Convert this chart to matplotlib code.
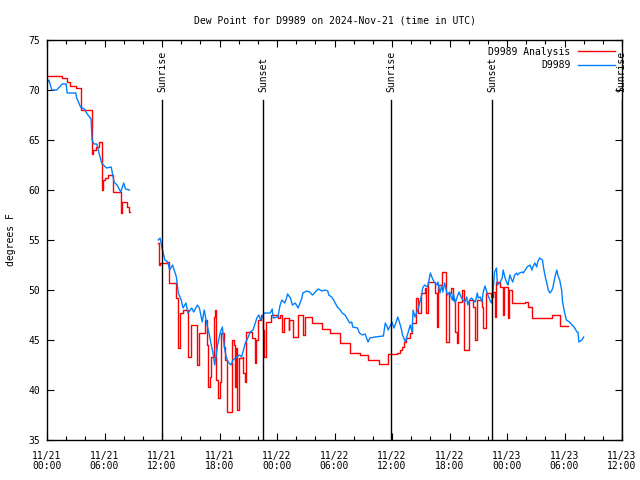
import numpy as np
import matplotlib
matplotlib.use("Agg")
import matplotlib.pyplot as plt

# hours since 2024-11-21 00:00 UTC
obs_hours = [0.0, 0.2, 0.5, 1.0, 1.6, 2.0, 2.1, 3.0, 3.1, 3.5, 3.9, 4.2, 4.6, 4.7, 4.9, 5.2,
             5.4, 5.7, 6.2, 6.7, 7.0, 7.3, 7.7, 8.0, 8.2, 8.6, 8.7,
             11.6, 11.8, 12.0, 12.3, 12.6, 12.8, 13.1, 13.5, 13.7, 14.0, 14.2, 14.5, 14.7, 15.1,
             15.3, 15.7, 15.9, 16.2, 16.4, 16.7, 16.9, 17.1, 17.3, 17.5, 17.8, 18.1, 18.3, 18.5,
             18.7, 18.9, 19.2, 19.4, 19.8, 20.1, 20.3, 20.7, 21.0, 21.2, 21.5, 21.9, 22.1, 22.3,
             22.5, 22.7, 23.3, 23.5, 23.6, 24.1, 24.3, 24.5, 24.8, 25.0, 25.1, 25.4, 25.6, 25.9,
             26.2, 26.6, 26.7, 27.1, 27.4, 27.7, 28.0, 28.3, 28.7, 29.0, 29.3, 29.4, 29.7, 29.9,
             30.3, 30.6, 30.8, 31.1, 31.4, 31.6, 31.8, 31.9, 32.4, 32.6, 32.9, 33.2, 33.5, 33.7,
             34.2, 35.1, 35.3, 35.5, 35.6, 36.0, 36.2, 36.4, 36.6, 36.8, 37.0, 37.1, 37.4, 37.6,
             37.7, 37.9, 38.1, 38.2, 38.4, 38.6, 38.7, 38.9, 39.1, 39.2, 39.4, 39.7, 39.8, 40.0,
             40.2, 40.4, 40.7, 40.8, 41.0, 41.2, 41.3, 41.5, 41.7, 41.8, 42.0, 42.3, 42.4, 42.6,
             42.8, 43.0, 43.2, 43.4, 43.6, 43.8, 43.9, 44.1, 44.3, 44.7, 44.9, 45.0, 45.2, 45.4,
             45.5, 45.7, 45.9, 46.0, 46.3, 46.4, 46.5, 46.6, 46.7, 46.9, 47.0, 47.3, 47.5, 47.6,
             47.8, 48.0, 48.1, 48.3, 48.5, 48.6, 48.8, 49.0, 49.1, 49.3, 49.6, 49.7, 49.9, 50.1,
             50.4, 50.6, 50.7, 50.9, 51.1, 51.2, 51.4, 51.7, 51.8, 52.0, 52.2, 52.3, 52.5, 52.7,
             52.8, 53.0, 53.2, 53.3, 53.5, 53.7, 53.8, 54.0, 54.2, 54.5, 54.8, 55.0, 55.3, 55.4,
             55.5, 55.8, 56.0]
obs_dewpt = [70.7, 71.0, 70.0, 70.0, 70.6, 70.6, 69.7, 69.7, 69.2, 68.3, 68.1, 67.6, 67.1, 65.0,
             64.6, 64.6, 63.8, 62.7, 62.2, 62.3, 60.8, 60.5, 59.8, 60.7, 60.1, 60.0, np.nan,
             55.0, 55.2, 54.2, 53.0, 52.8, 52.0, 52.5, 51.3, 49.7, 49.0, 48.2, 48.7, 47.7, 48.2,
             47.8, 48.5, 48.2, 46.8, 48.0, 46.5, 45.7, 44.7, 43.8, 42.5, 44.5, 45.8, 46.3, 44.3,
             43.3, 42.8, 42.5, 43.0, 43.3, 43.5, 43.3, 44.7, 45.3, 45.8, 46.0, 47.2, 47.5, 47.0,
             47.4, 47.7, 47.7, 48.1, 47.2, 47.3, 48.4, 49.0, 48.7, 49.2, 49.6, 49.2, 48.5, 48.7,
             48.2, 49.2, 49.7, 49.9, 49.8, 49.5, 49.8, 50.1, 49.9, 50.0, 49.9, 49.5, 49.3, 49.0,
             48.3, 48.0, 47.7, 47.5, 47.0, 46.7, 46.8, 46.3, 46.2, 45.7, 45.5, 45.6, 44.8, 45.2,
             45.3, 45.4, 46.7, 46.3, 46.0, 46.8, 46.2, 46.7, 47.3, 46.7, 46.0, 45.5, 44.8, 45.5,
             45.8, 46.5, 45.8, 48.0, 47.3, 47.8, 48.0, 48.8, 49.5, 50.2, 50.5, 50.3, 50.7, 51.7,
             51.2, 50.8, 50.5, 50.8, 49.7, 50.5, 49.8, 50.7, 49.8, 49.5, 49.8, 49.0, 49.7, 48.7,
             49.3, 49.8, 49.3, 49.0, 48.8, 49.3, 48.5, 49.0, 49.2, 48.8, 49.7, 49.2, 49.3, 48.8,
             49.7, 50.4, 49.8, 49.5, 48.8, 48.7, 49.5, 50.5, 51.8, 52.2, 50.5, 50.8, 51.2, 52.0,
             51.2, 50.7, 50.5, 51.5, 51.0, 50.8, 51.5, 51.7, 51.5, 51.7, 51.8, 51.7, 52.0, 52.3,
             52.5, 52.0, 52.3, 52.7, 52.3, 52.8, 53.2, 53.0, 52.3, 51.3, 50.5, 50.0, 49.7, 50.0,
             50.3, 51.3, 52.0, 51.5, 51.0, 50.0, 48.8, 47.8, 47.0, 46.8, 46.5, 46.3, 45.8, 45.8,
             44.8, 45.0, 45.3]

ana_hours = [0.0, 1.6, 2.1, 2.4, 3.0, 3.5, 4.7, 4.8, 5.1, 5.4, 5.7, 5.8, 6.0, 6.4, 6.9, 7.7,
             7.8, 8.3, 8.6, 8.7,
             11.6, 11.65, 11.8, 12.5, 12.7, 13.5, 13.7, 13.9, 14.2, 14.7, 15.0, 15.6, 15.9,
             16.5, 16.7, 16.8, 17.0, 17.1, 17.4, 17.5, 17.6, 17.8, 18.1, 18.2, 18.5, 18.6, 18.8,
             19.3, 19.5, 19.6, 19.7, 19.8, 20.0, 20.4, 20.5, 20.7, 20.8, 21.4, 21.7, 21.8, 22.0,
             22.3, 22.5, 22.6, 22.9, 23.4, 24.1, 24.3, 24.5, 24.7, 25.2, 25.3, 25.7, 26.2, 26.7,
             26.9, 27.6, 28.7, 29.5, 30.6, 31.6, 32.7, 33.5, 34.6, 35.6, 36.5, 36.8, 37.0, 37.2,
             37.5, 37.9, 38.1, 38.5, 38.7, 39.0, 39.4, 39.5, 39.8, 40.5, 40.7, 40.8, 41.2, 41.6,
             41.9, 42.2, 42.4, 42.6, 42.8, 42.9, 43.3, 43.5, 44.0, 44.5, 44.7, 44.9, 45.4, 45.5,
             45.8, 46.3, 46.5, 46.7, 46.8, 47.3, 47.6, 47.7, 48.1, 48.2, 48.5, 49.9, 50.2, 50.6,
             52.7, 53.5, 54.4]
ana_dewpt = [71.4, 71.2, 70.8, 70.4, 70.2, 68.0, 63.6, 64.0, 64.3, 64.8, 60.0, 61.0, 61.2, 61.5,
             59.8, 57.7, 58.8, 58.3, 57.8, np.nan,
             54.7, 52.5, 52.7, 52.8, 50.7, 49.2, 44.2, 47.7, 48.0, 43.3, 46.5, 42.5, 45.7,
             47.0, 44.5, 40.3, 41.3, 43.3, 47.3, 48.0, 41.0, 39.2, 40.8, 45.7, 44.3, 43.0, 37.8,
             45.0, 44.5, 40.3, 44.2, 38.0, 43.2, 43.3, 41.7, 40.8, 45.8, 45.2, 42.7, 45.0, 47.0,
             47.5, 46.0, 43.3, 46.8, 47.5, 47.2, 47.5, 45.8, 47.2, 46.0, 47.0, 45.3, 47.5, 45.5,
             47.3, 46.7, 46.1, 45.7, 44.7, 43.7, 43.5, 43.0, 42.6, 43.6, 43.7, 44.0, 44.3, 44.8,
             45.2, 45.7, 46.7, 49.2, 47.7, 49.7, 50.2, 47.7, 50.8, 49.7, 46.3, 50.5, 51.8, 44.8,
             49.7, 50.2, 49.0, 45.8, 44.7, 48.8, 50.0, 44.0, 49.0, 48.3, 45.0, 49.0, 48.3, 46.2,
             49.7, 49.3, 49.8, 47.3, 50.8, 50.3, 47.5, 50.3, 47.2, 50.0, 48.7, 48.8, 48.3, 47.2,
             47.5, 46.4, 46.4]

sun_hours = [12.0, 22.55, 35.9, 46.45, 59.95]
sun_labels = ["Sunrise", "Sunset", "Sunrise", "Sunset", "Sunrise"]

tick_hours = list(range(0, 61, 6))
tick_labels = ["11/21\n00:00", "11/21\n06:00", "11/21\n12:00", "11/21\n18:00", "11/22\n00:00",
               "11/22\n06:00", "11/22\n12:00", "11/22\n18:00", "11/23\n00:00", "11/23\n06:00",
               "11/23\n12:00"]

plt.rcParams['font.family'] = ['DejaVu Sans Mono']
plt.rcParams['font.size'] = 7

fig = plt.figure(figsize=(6.4, 4.8), dpi=100)
ax = fig.add_axes([47/640, 40/480, 575/640, 400/480])

ax.plot(ana_hours, ana_dewpt, color='#ff0000', lw=1.0, drawstyle='steps-post', label='D9989 Analysis')
ax.plot(obs_hours, obs_dewpt, color='#0080ff', lw=1.0, label='D9989')

for h, lab in zip(sun_hours, sun_labels):
    ax.plot([h, h], [35, 69.0], color='black', lw=1.0)
    ax.text(h, 69.8, lab, rotation=90, ha='center', va='bottom', fontsize=7, clip_on=False)

ax.set_xlim(0, 60)
ax.set_ylim(35, 75)
ax.set_xticks(tick_hours)
ax.set_xticklabels(tick_labels, linespacing=0.95)
ax.set_xticks(list(range(0, 61, 2)), minor=True)
ax.set_yticks(range(35, 76, 5))
ax.tick_params(direction='in', which='major', length=5, width=0.8, top=True, right=True, pad=5)
ax.tick_params(direction='in', which='minor', length=3, width=0.8, top=True, right=False)
ax.tick_params(axis='x', which='major', pad=8)
for s in ax.spines.values():
    s.set_linewidth(1.0)

ax.set_ylabel("degrees F", labelpad=9)
ax.set_title("Dew Point for D9989 on 2024-Nov-21 (time in UTC)", fontsize=7, pad=12)

ax.legend(loc='upper right', markerfirst=False, frameon=False, handlelength=3.8,
          fontsize=7, labelspacing=0.35, borderaxespad=0.3, handletextpad=0.8)

fig.savefig("out.png", dpi=100)
